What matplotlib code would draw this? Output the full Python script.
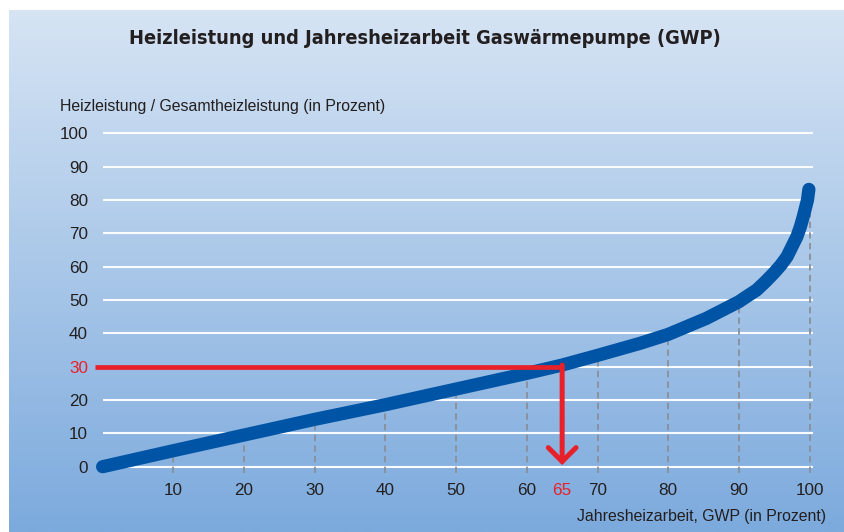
import numpy as np
import matplotlib
matplotlib.use("Agg")
import matplotlib.pyplot as plt

# curve
arbeit = [0, 10, 20, 30, 40, 50, 60, 65, 70, 76, 80, 85.4, 90, 91.2, 92.5, 93.7,
          94.9, 95.9, 96.8, 97.5, 98.2, 98.7, 99.1, 99.4, 99.7, 99.9]
leistung = [0, 4.8, 9.5, 14.2, 18.6, 23.3, 28, 30.5, 33.4, 37.0, 39.7, 44.5, 49.5, 51.2, 53.0, 55.4,
            58.0, 60.4, 63.0, 66.0, 69.0, 72.0, 75.0, 77.5, 80.0, 83.2]

x_ticks = [10, 20, 30, 40, 50, 60, 65, 70, 80, 90, 100]
y_ticks = [0, 10, 20, 30, 40, 50, 60, 70, 80, 90, 100]
drop_x = [10, 20, 30, 40, 50, 60, 70, 80, 90, 100]
drop_top = [4.8, 9.5, 14.2, 18.6, 23.3, 28, 33.4, 39.7, 49.5, 80]

mark_x, mark_y = 65, 30

title = "Heizleistung und Jahresheizarbeit Gaswärmepumpe (GWP)"
ylabel = "Heizleistung / Gesamtheizleistung (in Prozent)"
xlabel = "Jahresheizarbeit, GWP (in Prozent)"

RED = "#e8202a"
BLUE = "#0054a6"
TXT = "#231f20"
W, H = 844, 532

fig = plt.figure(figsize=(W / 100, H / 100), dpi=100, facecolor="white")

# gradient background panel
bg = fig.add_axes([9 / W, 0, (W - 9) / W, (H - 10) / H])
top = np.array([214, 228, 244]) / 255
bot = np.array([124, 170, 221]) / 255
t = np.linspace(0, 1, 256)[:, None]
grad = top[None, :] * (1 - t) + bot[None, :] * t
bg.imshow(grad[:, None, :], aspect="auto", extent=[0, 1, 0, 1])
bg.set_axis_off()

# plot axes, placed so the data maps onto the reference pixels
x0, x1 = -2, 103
y0, y1 = -3, 103
px_x = lambda v: 102.6 + v * 7.07
px_y = lambda v: 466.7 - v * 3.333
left, right = px_x(x0), px_x(x1)
bottom, topp = px_y(y0), px_y(y1)
ax = fig.add_axes([left / W, 1 - bottom / H, (right - left) / W, (bottom - topp) / H])
ax.set_xlim(x0, x1)
ax.set_ylim(y0, y1)
ax.patch.set_alpha(0)
for s in ax.spines.values():
    s.set_visible(False)

ax.hlines(y_ticks, 0, 100.5, color="white", lw=1.5, alpha=0.95, zorder=1)
ax.vlines(drop_x, -2, drop_top, color="#8a8f99", lw=1.3,
          linestyles=(0, (3.5, 2.4)), zorder=2)

ax.plot(arbeit, leistung, color=BLUE, lw=9.5, solid_capstyle="round",
        solid_joinstyle="round", zorder=3)

ax.plot([-1.1, mark_x], [mark_y, mark_y], color=RED, lw=3.4, solid_capstyle="butt",
        zorder=4, clip_on=False)
ax.annotate("", xy=(mark_x, 0.5), xytext=(mark_x, mark_y + 0.5),
            arrowprops=dict(arrowstyle="->,head_width=0.5,head_length=0.5",
                            color=RED, lw=3.6, mutation_scale=20,
                            shrinkA=0, shrinkB=0, joinstyle="miter"),
            zorder=4)

tick_font = dict(family=["Liberation Sans", "DejaVu Sans"], size=12.3)
ax.set_xticks(x_ticks)
ax.set_xticklabels([str(v) for v in x_ticks], **tick_font)
ax.set_yticks(y_ticks)
ax.set_yticklabels([str(v) for v in y_ticks], **tick_font)
ax.tick_params(axis="both", length=0, colors=TXT)
ax.tick_params(axis="y", pad=0.4)
ax.tick_params(axis="x", pad=4.5)
for lab in ax.get_xticklabels():
    if lab.get_text() == str(mark_x):
        lab.set_color(RED)
for lab in ax.get_yticklabels():
    if lab.get_text() == str(mark_y):
        lab.set_color(RED)

fig.text(425 / W, 1 - 38 / H, title, ha="center", va="center", color=TXT,
         fontsize=14.3, fontweight="bold", fontstretch="condensed",
         family=["DejaVu Sans"])
fig.text(60 / W, 1 - 107 / H, ylabel, ha="left", va="center", color=TXT,
         fontsize=11.4, family=["Liberation Sans", "DejaVu Sans"])
fig.text(826 / W, 1 - 517 / H, xlabel, ha="right", va="center", color=TXT,
         fontsize=11.4, family=["Liberation Sans", "DejaVu Sans"])

fig.savefig("out.png", dpi=100, facecolor="white")
